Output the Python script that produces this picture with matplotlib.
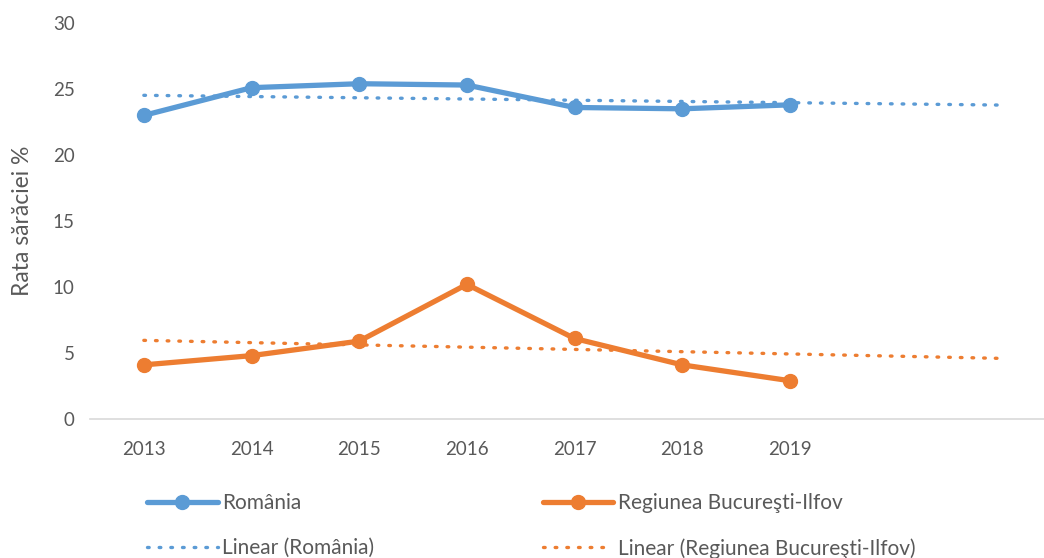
import matplotlib.pyplot as plt
import numpy as np

plt.rcParams['font.family'] = ['Lato', 'DejaVu Sans']

years = ['2013', '2014', '2015', '2016', '2017', '2018', '2019']
romania = [23.0, 25.1, 25.4, 25.3, 23.6, 23.5, 23.8]
bucuresti = [4.1, 4.8, 5.9, 10.2, 6.1, 4.1, 2.9]

blue = '#5B9BD5'
orange = '#ED7D31'
grey = '#595959'

fig = plt.figure(figsize=(10.44, 5.58), dpi=100)
ax = fig.add_axes([90 / 1044, 1 - 419 / 558, 1 - 90 / 1044, (419 - 23) / 558])

x = np.arange(len(years))
# linear trend lines, forecast forward 2 periods (as in Excel)
xt = np.arange(len(years) + 2)
cr = np.polyfit(x, romania, 1)
cb = np.polyfit(x, bucuresti, 1)

l1, = ax.plot(x, romania, color=blue, lw=3.8, marker='o', ms=10, solid_capstyle='round')
l2, = ax.plot(x, bucuresti, color=orange, lw=3.8, marker='o', ms=10, solid_capstyle='round')
t1, = ax.plot(xt, np.polyval(cr, xt), color=blue, lw=2.4, ls=(0, (0.5, 3.0)), dash_capstyle='round')
t2, = ax.plot(xt, np.polyval(cb, xt), color=orange, lw=2.4, ls=(0, (0.5, 3.0)), dash_capstyle='round')

ax.set_xlim(-0.5, 8.36)
ax.set_ylim(0, 30)
ax.set_yticks(range(0, 31, 5))
ax.set_xticks(x)
ax.set_xticklabels(years)
ax.tick_params(length=0, labelsize=13.5, colors=grey)
ax.tick_params(axis='x', pad=16)
ax.tick_params(axis='y', pad=11)
for s in ['top', 'right', 'left']:
    ax.spines[s].set_visible(False)
ax.spines['bottom'].set_color('#D9D9D9')
ax.spines['bottom'].set_linewidth(1.2)

ax.set_ylabel('Rata sărăciei %', fontsize=16.5, color=grey, labelpad=14)

fig.legend([l1, t1, l2, t2],
           ['România', 'Linear (România)', 'Regiunea Bucureşti-Ilfov', 'Linear (Regiunea Bucureşti-Ilfov)'],
           ncol=2, loc='lower left', bbox_to_anchor=(128 / 1044, -0.035), frameon=False,
           fontsize=15, labelcolor=grey, handlelength=3.4, handletextpad=0.2,
           columnspacing=8.1, labelspacing=1.2)

fig.savefig('out.png', dpi=100)
